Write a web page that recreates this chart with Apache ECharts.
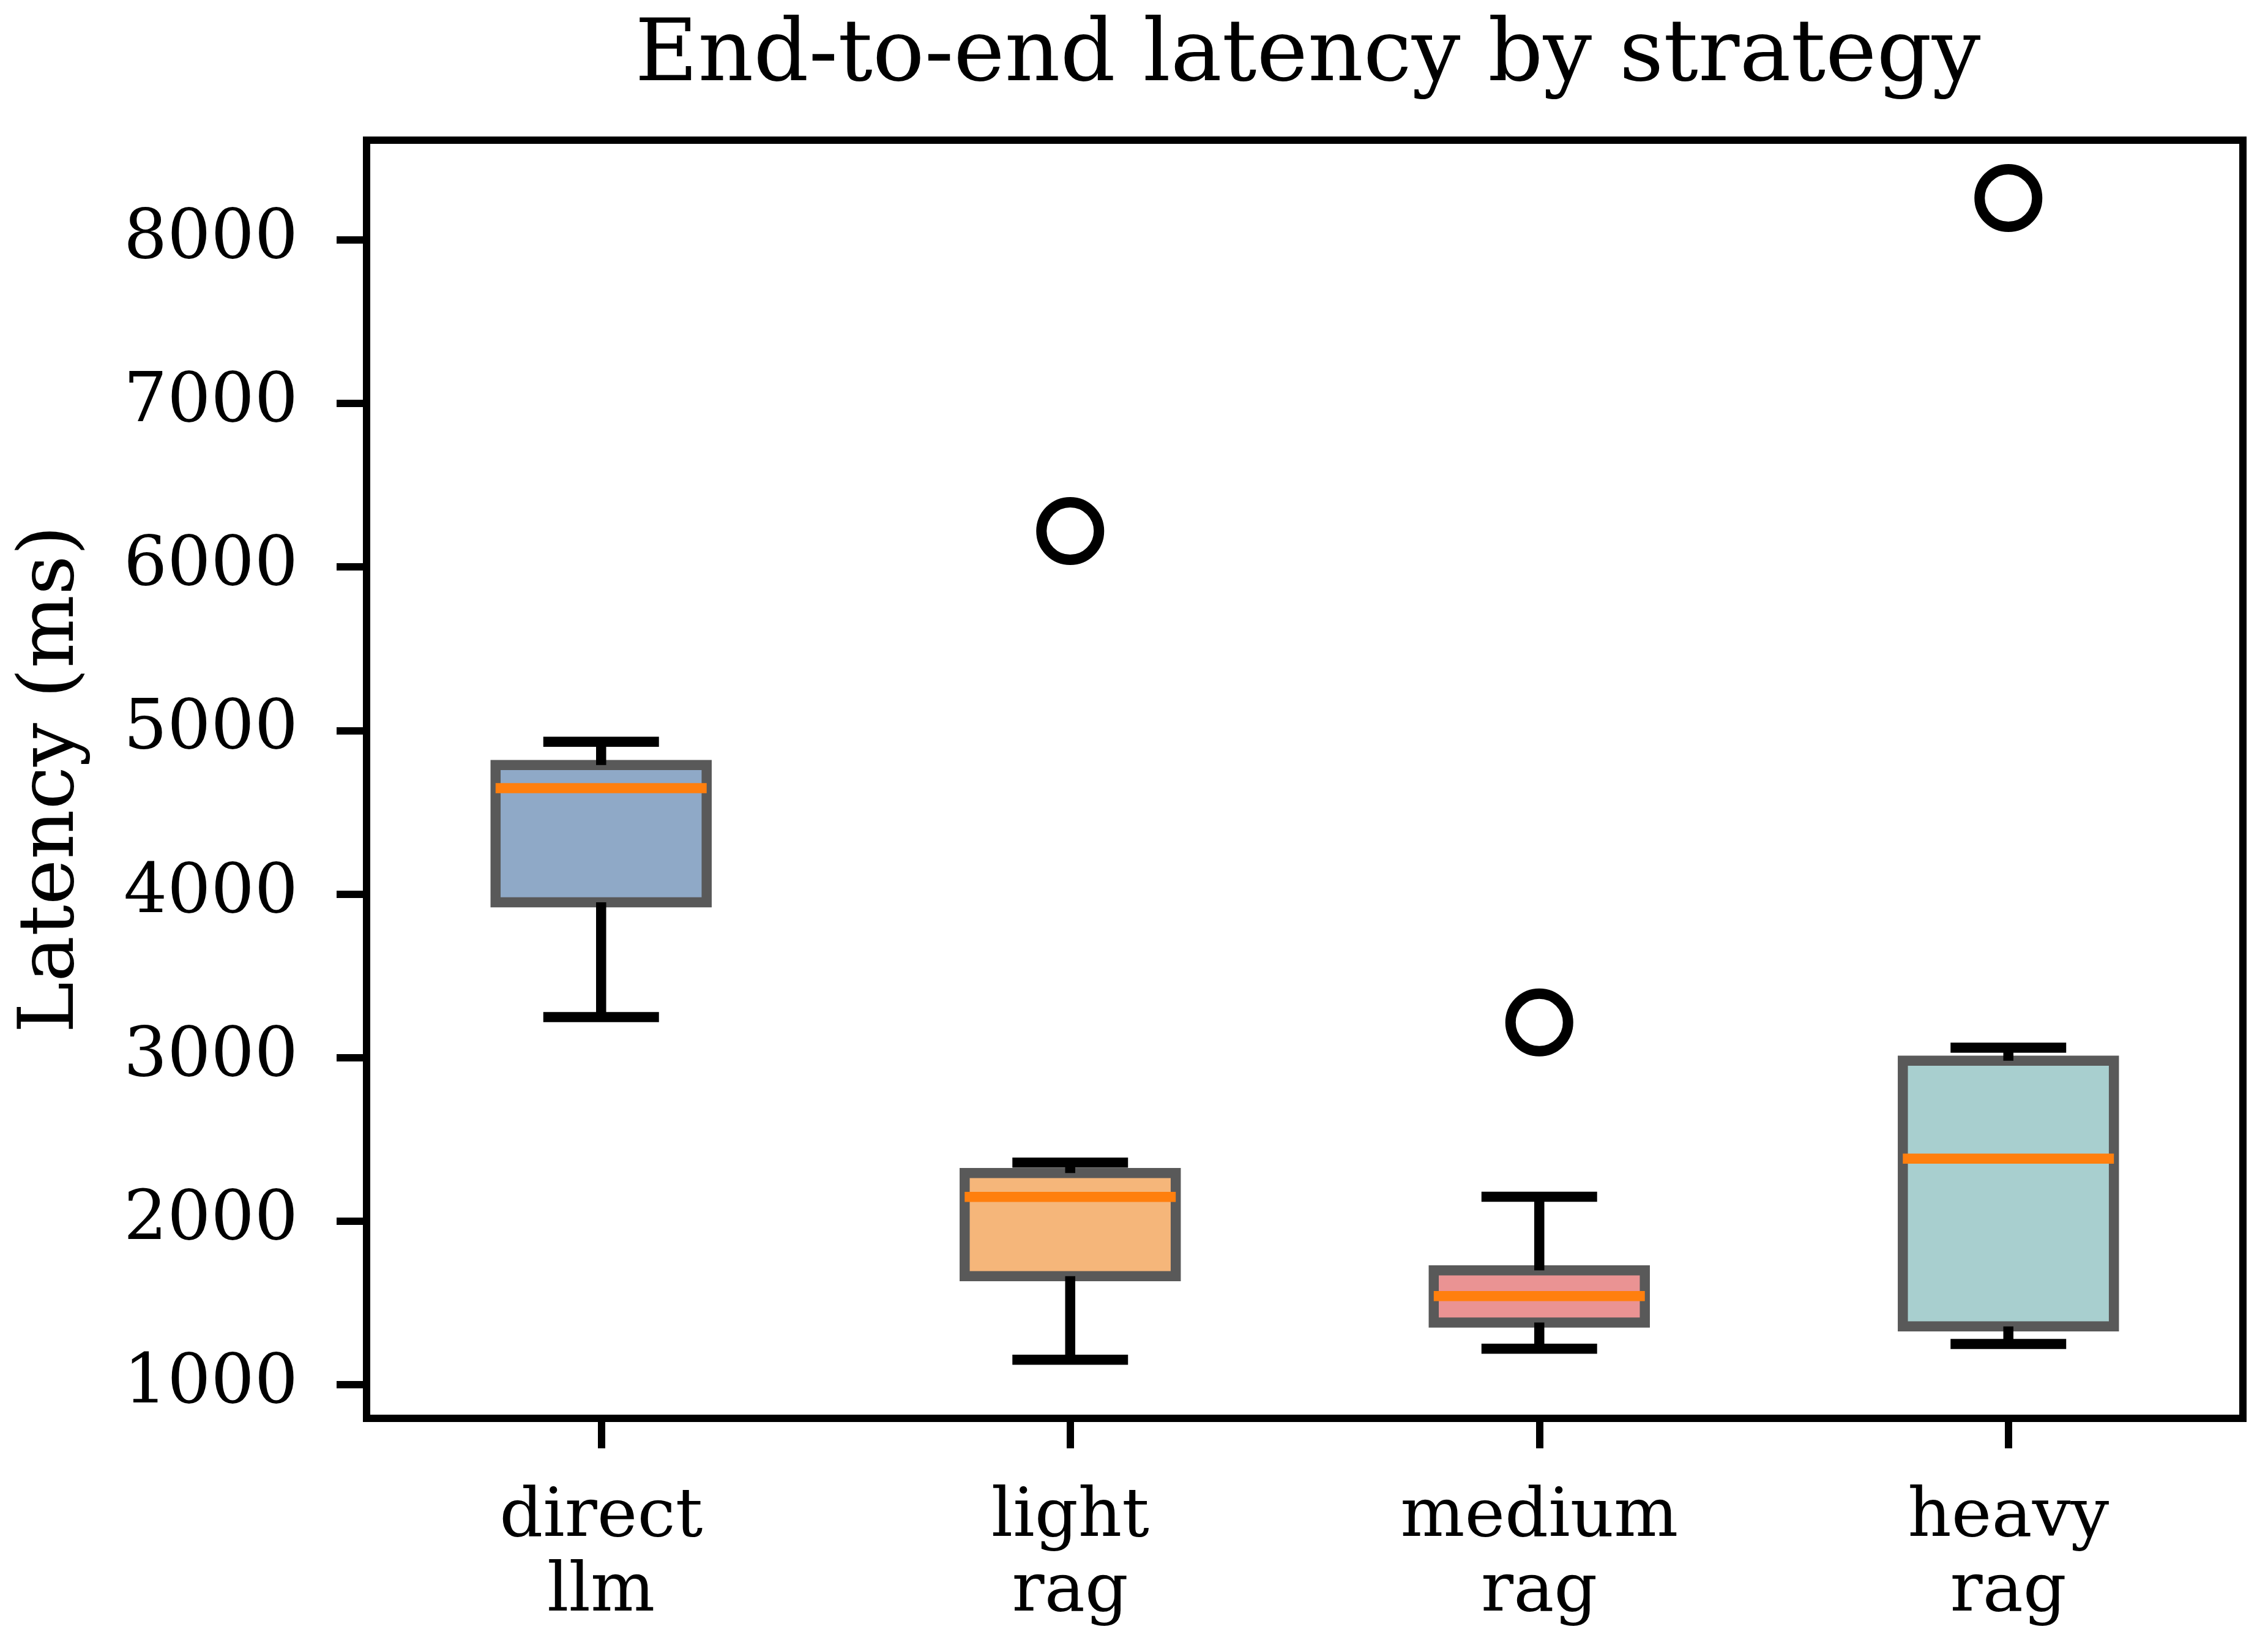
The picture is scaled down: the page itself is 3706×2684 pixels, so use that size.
<!DOCTYPE html>
<html><head><meta charset="utf-8">
<script src="https://cdn.jsdelivr.net/npm/echarts@6/dist/echarts.min.js"></script>
<style>html,body{margin:0;padding:0;background:#fff}#c{width:3706px;height:2684px}</style>
</head><body><div id="c"></div>
<script>
const categories = ['direct\nllm', 'light\nrag', 'medium\nrag', 'heavy\nrag'];
const whiskerLow = [3248, 1152, 1220, 1249];
const q1 = [3950, 1663, 1380, 1356];
const median = [4648, 2148, 1542, 2382];
const q3 = [4789, 2294, 1699, 2981];
const whiskerHigh = [4931, 2358, 2149, 3061];
const outlierCategory = [1, 2, 3];
const outlierValue = [6220, 3215, 8256];
const yTicks = [1000, 2000, 3000, 4000, 5000, 6000, 7000, 8000];
const boxColors = ['#8FA9C7', '#F5B67A', '#EA9393', '#A8CFCF'];

const FONT = 'DejaVu Serif';
const LW = 16.5;

const boxData = categories.map((c, i) => [i, whiskerLow[i], q1[i], median[i], q3[i], whiskerHigh[i]]);
const outlierData = outlierCategory.map((c, i) => [c, outlierValue[i]]);

function renderBox(params, api) {
  const i = api.value(0);
  const x = api.coord([i, api.value(3)])[0];
  const band = api.size([1, 0])[0];
  const bw = band * 0.45;
  const cw = band * 0.1125;
  const yMin = api.coord([i, api.value(1)])[1];
  const yQ1 = api.coord([i, api.value(2)])[1];
  const yMed = api.coord([i, api.value(3)])[1];
  const yQ3 = api.coord([i, api.value(4)])[1];
  const yMax = api.coord([i, api.value(5)])[1];
  const blk = {stroke: '#000', lineWidth: LW, lineCap: 'butt'};
  const cap = {stroke: '#000', lineWidth: LW, lineCap: 'square'};
  return {
    type: 'group',
    children: [
      {type: 'rect', shape: {x: x - bw / 2, y: yQ3, width: bw, height: yQ1 - yQ3},
       style: {fill: boxColors[i], stroke: '#595959', lineWidth: LW}},
      {type: 'line', shape: {x1: x, y1: yQ1, x2: x, y2: yMin}, style: blk},
      {type: 'line', shape: {x1: x, y1: yQ3, x2: x, y2: yMax}, style: blk},
      {type: 'line', shape: {x1: x - cw, y1: yMin, x2: x + cw, y2: yMin}, style: cap},
      {type: 'line', shape: {x1: x - cw, y1: yMax, x2: x + cw, y2: yMax}, style: cap},
      {type: 'line', shape: {x1: x - bw / 2, y1: yMed, x2: x + bw / 2, y2: yMed},
       style: {stroke: '#FF7F0E', lineWidth: LW, lineCap: 'butt'}}
    ]
  };
}

const chart = echarts.init(document.getElementById('c'), null, {renderer: 'canvas', devicePixelRatio: 1});
chart.setOption({
  animation: false,
  backgroundColor: '#ffffff',
  title: {
    text: 'End-to-end latency by strategy',
    left: 2132, top: 19, textAlign: 'center',
    textStyle: {fontFamily: FONT, fontSize: 141, fontWeight: 'normal', color: '#000'}
  },
  grid: {left: 599, top: 229, width: 3066, height: 2088, show: true,
         borderColor: '#000', borderWidth: 12, backgroundColor: 'transparent'},
  xAxis: {
    type: 'category', data: categories, boundaryGap: true,
    axisLine: {show: true, lineStyle: {color: '#000', width: 12}},
    axisTick: {show: true, alignWithLabel: true, length: 49, lineStyle: {color: '#000', width: 12}},
    axisLabel: {color: '#000', fontFamily: FONT, fontSize: 111, lineHeight: 122, margin: 102},
    splitLine: {show: false}
  },
  yAxis: {
    type: 'value', min: 794, max: 8610,
    name: 'Latency (ms)', nameLocation: 'middle', nameRotate: 90, nameGap: 450,
    nameTextStyle: {fontFamily: FONT, fontSize: 126, color: '#000'},
    axisLine: {show: true, lineStyle: {color: '#000', width: 12}},
    axisTick: {show: true, length: 49, customValues: yTicks, lineStyle: {color: '#000', width: 12}},
    axisLabel: {color: '#000', fontFamily: FONT, fontSize: 112, margin: 112, customValues: yTicks,
                formatter: v => String(v)},
    splitLine: {show: false}
  },
  series: [
    {type: 'custom', renderItem: renderBox, data: boxData, encode: {x: 0, y: [1, 2, 3, 4, 5]}, z: 2},
    {type: 'scatter', data: outlierData, symbol: 'circle', symbolSize: 94, z: 3,
     itemStyle: {color: 'rgba(0,0,0,0)', borderColor: '#000', borderWidth: 17, opacity: 1}}
  ]
});
</script></body></html>
